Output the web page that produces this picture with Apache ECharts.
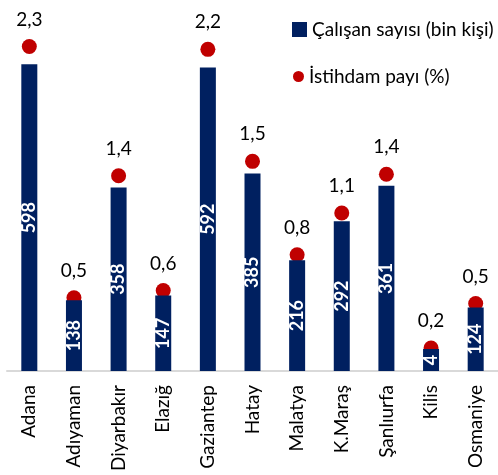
<!DOCTYPE html>
<html>
<head>
<meta charset="utf-8">
<script src="https://cdn.jsdelivr.net/npm/echarts@6/dist/echarts.min.js"></script>
<style>
  html, body { margin: 0; padding: 0; background: #fff; }
  #chart { width: 498px; height: 475px; }
</style>
</head>
<body>
<div id="chart"></div>
<script>
const provinces = ['Adana', 'Adıyaman', 'Diyarbakır', 'Elazığ', 'Gaziantep', 'Hatay', 'Malatya', 'K.Maraş', 'Şanlıurfa', 'Kilis', 'Osmaniye']
const workers = [598, 138, 358, 147, 592, 385, 216, 292, 361, 4, 124]
const share = [2.26, 0.51, 1.36, 0.56, 2.24, 1.46, 0.81, 1.10, 1.37, 0.16, 0.47]

const FONT = 'Lato'
const chart = echarts.init(document.getElementById('chart'))

chart.setOption({
  backgroundColor: '#fff',
  textStyle: { fontFamily: FONT },
  legend: [
    {
      data: [{ name: 'Çalışan sayısı (bin kişi)', icon: 'rect' }],
      left: 287,
      top: 15,
      itemWidth: 15,
      itemHeight: 15,
      itemGap: 4,
      textStyle: { color: '#000', fontSize: 19, fontFamily: FONT }
    },
    {
      data: [{ name: 'İstihdam payı (%)', icon: 'circle' }],
      left: 288,
      top: 62,
      itemWidth: 11,
      itemHeight: 11,
      itemGap: 5,
      textStyle: { color: '#000', fontSize: 19, fontFamily: FONT }
    }
  ],
  grid: {
    left: 7,
    width: 503,
    top: 12,
    bottom: 104,
    containLabel: false
  },
  xAxis: {
    type: 'category',
    data: provinces,
    axisTick: { show: false },
    axisLine: { lineStyle: { color: '#d9d9d9', width: 2 } },
    axisLabel: {
      rotate: 90,
      interval: 0,
      margin: 14,
      color: '#000',
      fontSize: 19,
      fontFamily: FONT
    }
  },
  yAxis: [
    {
      type: 'value',
      min: 0,
      max: 700,
      show: false,
      splitLine: { show: false }
    },
    {
      type: 'value',
      min: 0,
      max: 2.5,
      show: false,
      splitLine: { show: false }
    }
  ],
  series: [
    {
      name: 'Çalışan sayısı (bin kişi)',
      type: 'bar',
      data: workers,
      yAxisIndex: 0,
      barWidth: 16,
      barMinHeight: 22,
      itemStyle: { color: '#002060' },
      label: {
        show: true,
        position: 'inside',
        rotate: 90,
        color: '#fff',
        fontWeight: 'bold',
        fontSize: 18,
        fontFamily: FONT
      },
      z: 2
    },
    {
      name: 'İstihdam payı (%)',
      type: 'scatter',
      data: share,
      yAxisIndex: 1,
      symbol: 'circle',
      symbolSize: 15,
      itemStyle: { color: '#c00000', opacity: 1 },
      label: {
        show: true,
        position: 'top',
        distance: 10,
        color: '#000',
        fontSize: 19,
        fontFamily: FONT,
        formatter: p => p.value.toFixed(1).replace('.', ',')
      },
      z: 1
    }
  ]
})
</script>
</body>
</html>
